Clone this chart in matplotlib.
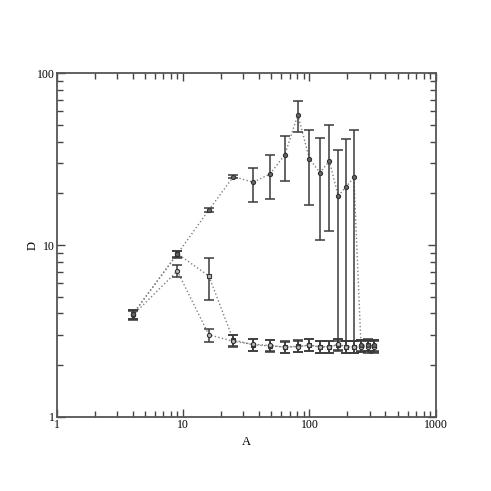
import matplotlib
matplotlib.use("Agg")
import matplotlib.pyplot as plt
import numpy as np
from matplotlib.ticker import LogLocator, NullFormatter, FixedLocator, FixedFormatter

A = [4, 9, 16, 25, 36, 49, 64, 81, 100, 121, 144, 169, 196, 225, 256, 289, 324]

# series 1 (filled dots)
d1 = [3.95, 8.85, 16.0, 25.0, 23.2, 26.0, 33.6, 57.4, 31.8, 26.4, 30.8, 19.3, 21.9, 24.8, 2.6, 2.6, 2.6]
d1_hi = [4.2, 9.2, 16.5, 25.6, 28.2, 33.4, 43.3, 69.2, 46.7, 42.2, 49.8, 35.7, 41.3, 46.7, 2.8, 2.8, 2.8]
d1_lo = [3.7, 8.45, 15.5, 24.4, 17.9, 18.6, 23.6, 45.7, 17.1, 10.7, 12.1, 2.77, 2.77, 2.77, 2.4, 2.4, 2.4]

# series 2 (open squares)
d2 = [3.95, 8.9, 6.6, 2.8, 2.62, 2.58, 2.55, 2.57, 2.6, 2.55, 2.56, 2.62, 2.55, 2.55, 2.58, 2.6, 2.57]
d2_hi = [4.2, 9.25, 8.4, 3.0, 2.83, 2.8, 2.76, 2.78, 2.82, 2.76, 2.77, 2.83, 2.76, 2.76, 2.79, 2.82, 2.78]
d2_lo = [3.7, 8.5, 4.76, 2.58, 2.42, 2.38, 2.35, 2.37, 2.4, 2.35, 2.36, 2.42, 2.35, 2.35, 2.38, 2.4, 2.37]

# series 3 (open circles)
d3 = [3.9, 7.05, 3.0, 2.75, 2.64, 2.6, 2.54, 2.56, 2.62, 2.55, 2.56, 2.64, 2.55, 2.55, 2.56, 2.55, 2.55]
d3_hi = [4.15, 7.69, 3.25, 2.98, 2.83, 2.8, 2.74, 2.76, 2.82, 2.75, 2.76, 2.84, 2.75, 2.75, 2.76, 2.75, 2.75]
d3_lo = [3.66, 6.53, 2.71, 2.54, 2.42, 2.4, 2.35, 2.37, 2.42, 2.36, 2.36, 2.44, 2.36, 2.36, 2.37, 2.36, 2.36]

plt.rcParams['font.family'] = ['Liberation Serif', 'DejaVu Serif']

fig = plt.figure(figsize=(4.91, 4.91), dpi=100)
ax = fig.add_axes([0.1155, 0.1513, 0.772, 0.6994])

line_col = '#808080'
err_col = '#3a3a3a'


def draw(y, hi, lo, marker, fill):
    y = np.array(y)
    yerr = [y - np.array(lo), np.array(hi) - y]
    ax.errorbar(A, y, yerr=yerr, fmt='none', ecolor=err_col, elinewidth=1.1,
                capsize=3.5, capthick=1.1, zorder=2)
    ax.plot(A, y, linestyle=':', color=line_col, linewidth=1.0, zorder=1)
    ax.plot(A, y, linestyle='none', marker=marker, markersize=3.0,
            markerfacecolor=fill, markeredgecolor='#333333', markeredgewidth=0.8, zorder=3)


draw(d2, d2_hi, d2_lo, 's', '#bbbbbb')
draw(d3, d3_hi, d3_lo, 'o', '#bbbbbb')
draw(d1, d1_hi, d1_lo, 'o', '#666666')

ax.set_xscale('log')
ax.set_yscale('log')
ax.set_xlim(1, 1000)
ax.set_ylim(1, 100)

ax.xaxis.set_major_locator(FixedLocator([1, 10, 100, 1000]))
ax.xaxis.set_major_formatter(FixedFormatter(['1', '10', '100', '1000']))
ax.yaxis.set_major_locator(FixedLocator([1, 10, 100]))
ax.yaxis.set_major_formatter(FixedFormatter(['1', '10', '100']))
ax.xaxis.set_minor_locator(LogLocator(base=10, subs=np.arange(2, 10)))
ax.yaxis.set_minor_locator(LogLocator(base=10, subs=np.arange(2, 10)))
ax.xaxis.set_minor_formatter(NullFormatter())
ax.yaxis.set_minor_formatter(NullFormatter())

ax.tick_params(which='both', direction='in', top=True, right=True,
               colors='#444444', labelcolor='black', labelsize=8.5, pad=2)
ax.tick_params(which='major', length=6, width=1.0)
ax.tick_params(which='minor', length=4, width=1.0)
ax.tick_params(axis='y', pad=1)
for s in ax.spines.values():
    s.set_color('#555555')
    s.set_linewidth(1.3)

ax.set_xlabel('A', fontsize=9, labelpad=3)
ax.set_ylabel('D', fontsize=9, labelpad=-1)

fig.savefig('out.png', dpi=100)
